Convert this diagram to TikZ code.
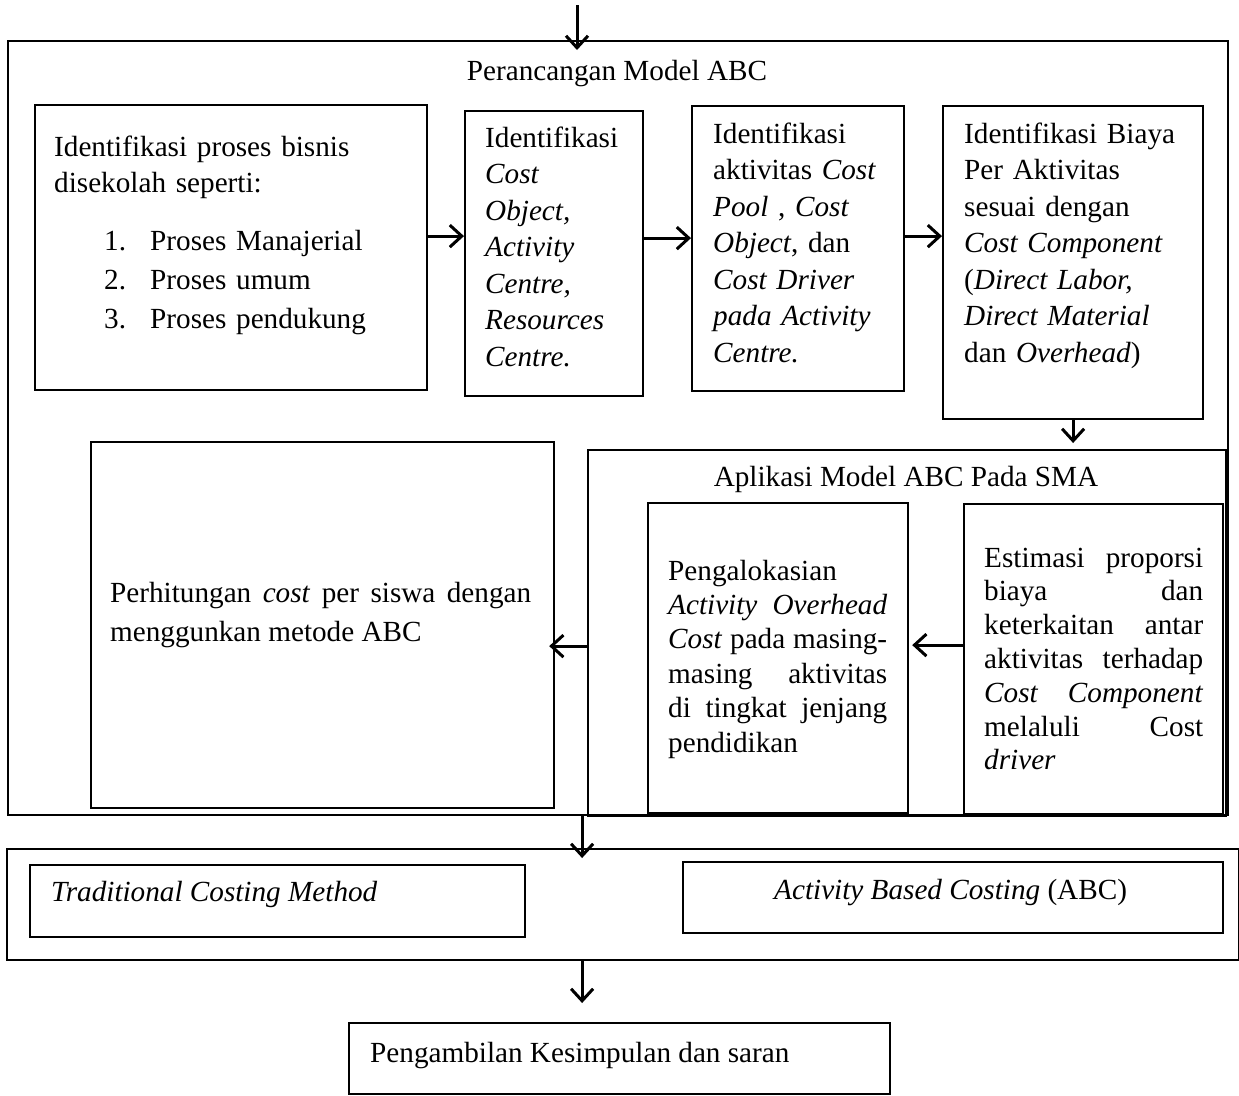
\documentclass[tikz,border=0pt]{standalone}
\usepackage{fontspec}
\setmainfont{Liberation Serif}
\usetikzlibrary{calc}
\usetikzlibrary{arrows.meta}

\begin{document}
\begin{tikzpicture}[x=1pt, y=-1pt, every node/.style={inner sep=0pt, font=\fontsize{29.2}{36.5}\selectfont}, box/.style={draw, line width=2.2pt, anchor=north west}, txt/.style={anchor=base west, align=left}, arr/.style={-{Straight Barb[length=12pt, width=22pt]}, line width=3pt}]
		\useasboundingbox (0,0) rectangle (1239,1095);
		\node[box, minimum width=1220pt, minimum height=774pt] (design) at (7,40) {};
		\node[box, minimum width=392pt, minimum height=285pt] (bisnis) at (34,104) {};
		\node[box, minimum width=178pt, minimum height=285pt] (objek) at (464,110) {};
		\node[box, minimum width=212pt, minimum height=285pt] (pool) at (691,105) {};
		\node[box, minimum width=260pt, minimum height=313pt] (biaya) at (942,105) {};
		\node[box, minimum width=463pt, minimum height=366pt] (hitung) at (90,441) {};
		\node[box, minimum width=638pt, minimum height=366pt] (aplikasi) at (587,449) {};
		\node[box, minimum width=260pt, minimum height=310pt] (alokasi) at (647,502) {};
		\node[box, minimum width=259pt, minimum height=310pt] (estimasi) at (963,503) {};
		\node[box, minimum width=1232pt, minimum height=111pt] (metode) at (6,848) {};
		\node[box, minimum width=495pt, minimum height=72pt] (tradisional) at (29,864) {};
		\node[box, minimum width=540pt, minimum height=71pt] (abc) at (682,861) {};
		\node[box, minimum width=541pt, minimum height=71pt] (simpulan) at (348,1022) {};

		\node[anchor=base] (designT) at (617,80) {Perancangan Model ABC};
		\node[txt, text width=360pt] (bisnisT) at (54,156) {Identifikasi proses bisnis\\disekolah seperti:};
		\node[txt, text width=300pt, font=\fontsize{29.2}{39}\selectfont] (daftarT) at (104,250) {\makebox[46pt][l]{1.}Proses Manajerial\\\makebox[46pt][l]{2.}Proses umum\\\makebox[46pt][l]{3.}Proses pendukung};
		\node[txt, text width=150pt] (objekT) at (485,147) {Identifikasi\\\textit{Cost}\\\textit{Object,}\\\textit{Activity}\\\textit{Centre,}\\\textit{Resources}\\\textit{Centre.}};
		\node[txt, text width=185pt] (poolT) at (713,143) {Identifikasi\\aktivitas \textit{Cost}\\\textit{Pool} , \textit{Cost}\\\textit{Object}, dan\\\textit{Cost Driver}\\\textit{pada Activity}\\\textit{Centre.}};
		\node[txt, text width=235pt] (biayaT) at (964,143) {Identifikasi Biaya\\Per Aktivitas\\sesuai dengan\\\textit{Cost Component}\\(\textit{Direct Labor,}\\\textit{Direct Material}\\dan \textit{Overhead})};
		\node[txt, text width=421pt, align=justify, font=\fontsize{29.2}{39}\selectfont] (hitungT) at (110,602) {Perhitungan \textit{cost} per siswa dengan\linebreak menggunkan metode ABC};
		\node[anchor=base] (aplikasiT) at (906,486) {Aplikasi Model ABC Pada SMA};
		\node[txt, text width=219pt, align=justify, font=\fontsize{29.2}{34.4}\selectfont] (alokasiT) at (668,580) {Pengalokasian\\\textit{Activity Overhead}\linebreak \textit{Cost} pada masing-\linebreak masing aktivitas\linebreak di tingkat jenjang\linebreak pendidikan};
		\node[txt, text width=219pt, align=justify, font=\fontsize{29.2}{33.8}\selectfont] (estimasiT) at (984,567) {Estimasi proporsi\linebreak biaya dan\linebreak keterkaitan antar\linebreak aktivitas terhadap\linebreak \textit{Cost Component}\linebreak melaluli Cost\linebreak \textit{driver}};
		\node[txt] (tradisionalT) at (51,901) {\textit{Traditional Costing Method}};
		\node[txt] (abcT) at (774,899) {\textit{Activity Based Costing} (ABC)};
		\node[txt] (simpulanT) at (370,1062) {Pengambilan Kesimpulan dan saran};

		\coordinate (masuk) at (577,5);
		\draw[arr, shorten >=-10pt] (masuk) -- (masuk |- design.north);
		\draw[arr] ([yshift=11.5pt]bisnis.east) -- ([yshift=11.5pt]bisnis.east -| objek.west);
		\draw[arr] ([yshift=15.5pt]objek.east) -- ([yshift=15.5pt]objek.east -| pool.west);
		\draw[arr] ([yshift=12.5pt]pool.east) -- ([yshift=12.5pt]pool.east -| biaya.west);
		\draw[arr, shorten >=6pt] (biaya.south) -- (biaya.south |- aplikasi.north);
		\draw[arr, shorten >=3pt] ([yshift=14pt]estimasi.west) -- ([yshift=14pt]estimasi.west -| alokasi.east);
		\draw[arr, shorten >=-6pt] ([yshift=-13pt]aplikasi.west) -- ([yshift=-13pt]aplikasi.west -| hitung.east);
		\draw[arr, shorten >=-10pt] ([xshift=-36pt]design.south) -- ([xshift=-36pt]design.south |- metode.north);
		\draw[arr, shorten >=19pt] ([xshift=-41pt]metode.south) -- ([xshift=-41pt]metode.south |- simpulan.north);
	\end{tikzpicture}
\end{document}
